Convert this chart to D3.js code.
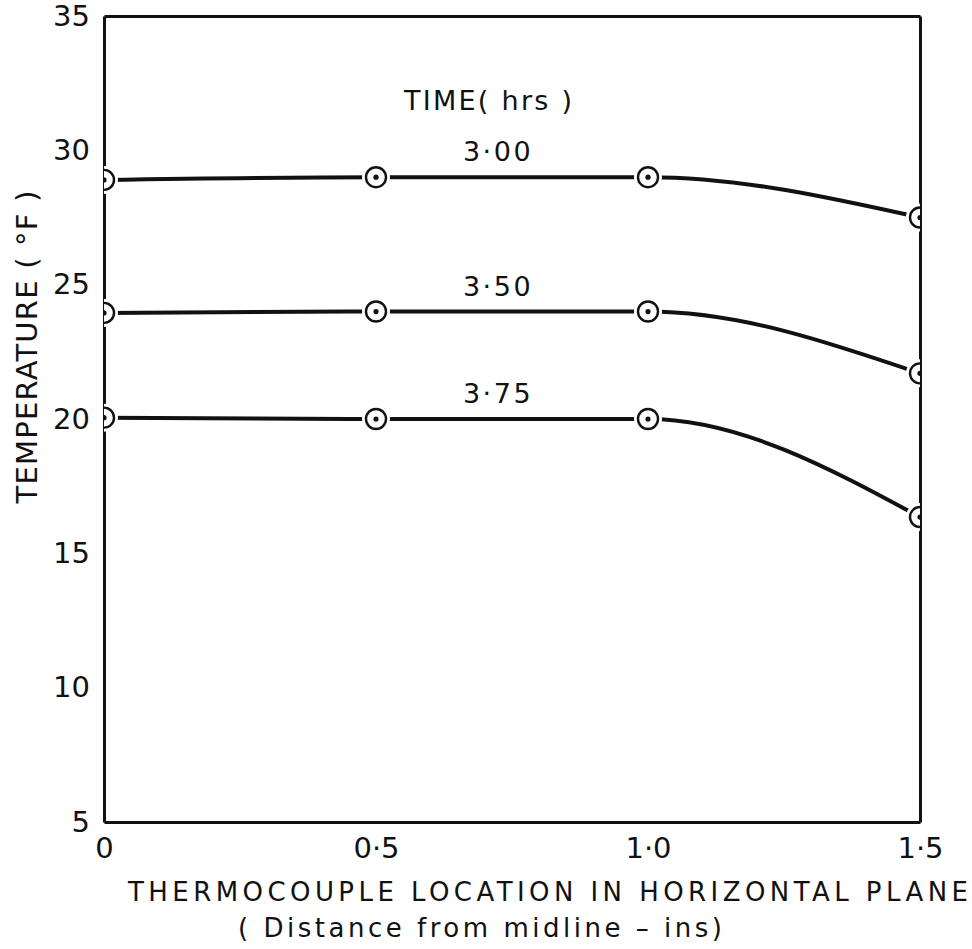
<!DOCTYPE html>
<html>
<head>
<meta charset="utf-8">
<script src="https://cdn.jsdelivr.net/npm/d3@7"></script>
<style>
  body { margin: 0; background: #fff; }
  text { font-family: "DejaVu Sans", sans-serif; fill: #111; }
</style>
</head>
<body>
<svg id="chart" width="972" height="949"></svg>
<script>
'use strict';

// thermocouple location (ins from midline)
let locations = [0, 0.5, 1.0, 1.5];
// time labels for the three curves
let times = ['3·00', '3·50', '3·75'];
// temperature (°F) readings, one array per time
let temp300 = [28.9, 29.0, 29.0, 27.5];
let temp350 = [23.95, 24.0, 24.0, 21.7];
let temp375 = [20.05, 20.0, 20.0, 16.35];
let xTicks = [0, 0.5, 1.0, 1.5];
let yTicks = [5, 10, 15, 20, 25, 30, 35];

let series = [temp300, temp350, temp375].map(function(vals, i){
  return {
    label: times[i],
    points: vals.map(function(v, j){ return {x: locations[j], y: v}; })
  };
});

let margin = {top: 16, right: 52, bottom: 127, left: 104};
let svg = d3.select('#chart');
let width = +svg.attr('width') - margin.left - margin.right;
let height = +svg.attr('height') - margin.top - margin.bottom;

let x = d3.scaleLinear().domain([0, 1.5]).range([0, width]);
let y = d3.scaleLinear().domain([5, 35]).range([height, 0]);

let g = svg.append('g').attr('transform', 'translate(' + margin.left + ',' + margin.top + ')');

function fmtX(d){
  return d === 0 ? '0' : d.toFixed(1).replace('.', '·');
}

// frame
g.append('g').attr('class', 'axis')
  .attr('transform', 'translate(0,' + height + ')')
  .call(d3.axisBottom(x).tickValues(xTicks).tickFormat(fmtX).tickSize(0).tickPadding(15));
g.append('g').attr('class', 'axis')
  .call(d3.axisLeft(y).tickValues(yTicks).tickSize(0).tickPadding(14));
g.append('g').attr('class', 'axis').call(d3.axisTop(x).tickValues([]).tickSizeOuter(0));
g.append('g').attr('class', 'axis')
  .attr('transform', 'translate(' + width + ',0)')
  .call(d3.axisRight(y).tickValues([]).tickSizeOuter(0));

g.selectAll('.axis path').attr('stroke', '#111').attr('stroke-width', 3);
g.selectAll('.axis text').attr('font-size', 29).attr('fill', '#111');

// curves
svg.append('clipPath').attr('id', 'plot-clip')
  .append('rect').attr('x', 0).attr('y', 0).attr('width', width).attr('height', height);

let line = d3.line()
  .x(function(d){ return x(d.x); })
  .y(function(d){ return y(d.y); })
  .curve(d3.curveMonotoneX);

let plot = g.append('g').attr('clip-path', 'url(#plot-clip)');

series.forEach(function(s){
  plot.append('path')
    .datum(s.points)
    .attr('fill', 'none')
    .attr('stroke', '#111')
    .attr('stroke-width', 4)
    .attr('d', line);

  let m = plot.selectAll(null).data(s.points).enter().append('g')
    .attr('transform', function(d){ return 'translate(' + x(d.x) + ',' + y(d.y) + ')'; });
  m.append('circle').attr('r', 14).attr('fill', '#fff');
  m.append('circle').attr('r', 10).attr('fill', '#fff').attr('stroke', '#111').attr('stroke-width', 2.4);
  m.append('circle').attr('r', 2.6).attr('fill', '#111');

  g.append('text')
    .attr('x', x(0.75) - 14)
    .attr('y', y(s.points[1].y) - 16)
    .attr('text-anchor', 'middle')
    .attr('font-size', 27)
    .attr('letter-spacing', 2.5)
    .text(s.label);
});

g.append('text')
  .attr('x', 404 - margin.left)
  .attr('y', 110 - margin.top)
  .attr('font-size', 27)
  .attr('textLength', 168)
  .attr('lengthAdjust', 'spacing')
  .text('TIME( hrs )');

// axis titles
svg.append('text')
  .attr('transform', 'translate(37,347) rotate(-90)')
  .attr('text-anchor', 'middle')
  .attr('font-size', 29)
  .attr('textLength', 313)
  .attr('lengthAdjust', 'spacing')
  .text('TEMPERATURE ( °F )');

svg.append('text')
  .attr('x', 128)
  .attr('y', 901)
  .attr('font-size', 26)
  .attr('textLength', 840)
  .attr('lengthAdjust', 'spacing')
  .text('THERMOCOUPLE LOCATION IN HORIZONTAL PLANE');

svg.append('text')
  .attr('x', 238)
  .attr('y', 937)
  .attr('font-size', 26)
  .attr('textLength', 484)
  .attr('lengthAdjust', 'spacing')
  .text('( Distance from midline – ins)');
</script>
</body>
</html>
